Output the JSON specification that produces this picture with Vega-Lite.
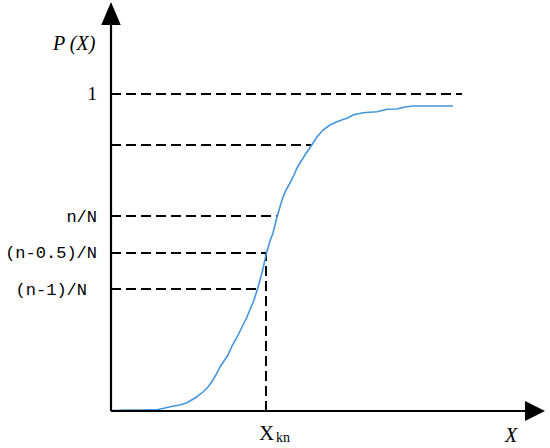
{
  "$schema": "https://vega.github.io/schema/vega-lite/v6.json",
  "width": 550,
  "height": 448,
  "padding": 0,
  "autosize": {"type": "fit", "contains": "padding"},
  "config": {"view": {"stroke": null}},
  "datasets": {
    "curve": [
      {"x": 0.02, "p": 0.0016}, {"x": 0.35, "p": 0.0032}, {"x": 0.725, "p": 0.0032},
      {"x": 1.175, "p": 0.0047}, {"x": 1.35, "p": 0.0095}, {"x": 1.475, "p": 0.0136},
      {"x": 1.725, "p": 0.0189}, {"x": 1.9, "p": 0.0262}, {"x": 2.1, "p": 0.041},
      {"x": 2.3, "p": 0.0599}, {"x": 2.425, "p": 0.0757}, {"x": 2.55, "p": 0.0978},
      {"x": 2.65, "p": 0.1199}, {"x": 2.725, "p": 0.1388}, {"x": 2.825, "p": 0.1577},
      {"x": 2.925, "p": 0.1767}, {"x": 3.025, "p": 0.205}, {"x": 3.15, "p": 0.2334},
      {"x": 3.275, "p": 0.265}, {"x": 3.4, "p": 0.2965}, {"x": 3.5, "p": 0.3281},
      {"x": 3.575, "p": 0.3502}, {"x": 3.6625, "p": 0.3849}, {"x": 3.775, "p": 0.4353},
      {"x": 3.8875, "p": 0.4984}, {"x": 3.975, "p": 0.5363}, {"x": 4.05, "p": 0.5615},
      {"x": 4.15, "p": 0.612}, {"x": 4.275, "p": 0.6656}, {"x": 4.375, "p": 0.6972},
      {"x": 4.475, "p": 0.7192}, {"x": 4.575, "p": 0.7445}, {"x": 4.65, "p": 0.7666},
      {"x": 4.725, "p": 0.7823}, {"x": 4.85, "p": 0.8076}, {"x": 5.0175, "p": 0.8391},
      {"x": 5.15, "p": 0.8644}, {"x": 5.3, "p": 0.8864}, {"x": 5.475, "p": 0.9022},
      {"x": 5.65, "p": 0.9126}, {"x": 5.8, "p": 0.9196}, {"x": 5.9, "p": 0.9233},
      {"x": 6.05, "p": 0.9338}, {"x": 6.3, "p": 0.941}, {"x": 6.65, "p": 0.9442},
      {"x": 6.775, "p": 0.9479}, {"x": 6.9, "p": 0.9517}, {"x": 7.15, "p": 0.9527},
      {"x": 7.35, "p": 0.959}, {"x": 7.55, "p": 0.9621}, {"x": 7.975, "p": 0.9621},
      {"x": 8.55, "p": 0.9621}
    ],
    "hlines": [
      {"x1": 0, "x2": 8.775, "p": 1},
      {"x1": 0, "x2": 5.025, "p": 0.8391},
      {"x1": 0, "x2": 4.15, "p": 0.6151},
      {"x1": 0, "x2": 3.875, "p": 0.4984},
      {"x1": 0, "x2": 3.675, "p": 0.3849}
    ],
    "vlines": [{"x": 3.875, "p1": 0, "p2": 0.4984}],
    "axes": [
      {"x1": 0, "x2": 0, "p1": 0, "p2": 1.2177},
      {"x1": 0, "x2": 10.375, "p1": 0, "p2": 0}
    ],
    "arrowUp": [{"x": 0, "p": 1.2539}],
    "arrowRight": [{"x": 10.6, "p": 0}],
    "ylabels": [
      {"x": -0.35, "p": 0.612, "label": "n/N"},
      {"x": -0.35, "p": 0.4984, "label": "(n-0.5)/N"},
      {"x": -0.6, "p": 0.3817, "label": "(n-1)/N"}
    ]
  },
  "layer": [
    {
      "data": {"name": "hlines"},
      "mark": {"type": "rule", "color": "#000000", "strokeWidth": 2, "strokeDash": [10, 5]},
      "encoding": {
        "x": {"field": "x1", "type": "quantitative", "axis": null, "scale": {"domain": [-2.775, 10.975], "nice": false, "zero": false}},
        "x2": {"field": "x2"},
        "y": {"field": "p", "type": "quantitative", "axis": null, "scale": {"domain": [-0.1167, 1.2965], "nice": false, "zero": false}}
      }
    },
    {
      "data": {"name": "vlines"},
      "mark": {"type": "rule", "color": "#000000", "strokeWidth": 2, "strokeDash": [10, 5]},
      "encoding": {
        "x": {"field": "x", "type": "quantitative"},
        "y": {"field": "p1", "type": "quantitative"},
        "y2": {"field": "p2"}
      }
    },
    {
      "data": {"name": "curve"},
      "mark": {"type": "line", "color": "#4595DC", "strokeWidth": 1.6},
      "encoding": {
        "x": {"field": "x", "type": "quantitative"},
        "y": {"field": "p", "type": "quantitative"}
      }
    },
    {
      "data": {"name": "axes"},
      "mark": {"type": "rule", "color": "#000000", "strokeWidth": 2.2},
      "encoding": {
        "x": {"field": "x1", "type": "quantitative"},
        "x2": {"field": "x2"},
        "y": {"field": "p1", "type": "quantitative"},
        "y2": {"field": "p2"}
      }
    },
    {
      "data": {"name": "arrowUp"},
      "mark": {"type": "point", "shape": "M0,-1L0.85,1L-0.85,1Z", "size": 529, "filled": true, "color": "#000000", "opacity": 1},
      "encoding": {
        "x": {"field": "x", "type": "quantitative"},
        "y": {"field": "p", "type": "quantitative"}
      }
    },
    {
      "data": {"name": "arrowRight"},
      "mark": {"type": "point", "shape": "M1,0L-1,1L-1,-1Z", "size": 400, "filled": true, "color": "#000000", "opacity": 1},
      "encoding": {
        "x": {"field": "x", "type": "quantitative"},
        "y": {"field": "p", "type": "quantitative"}
      }
    },
    {
      "data": {"name": "ylabels"},
      "mark": {"type": "text", "align": "right", "baseline": "middle", "font": "Liberation Mono", "fontSize": 17, "color": "#000000"},
      "encoding": {
        "x": {"field": "x", "type": "quantitative"},
        "y": {"field": "p", "type": "quantitative"},
        "text": {"field": "label"}
      }
    },
    {
      "data": {"values": [{"x": -0.35, "p": 0.981, "label": "1"}]},
      "mark": {"type": "text", "align": "right", "baseline": "alphabetic", "font": "Liberation Serif", "fontSize": 19, "color": "#000000"},
      "encoding": {
        "x": {"field": "x", "type": "quantitative"},
        "y": {"field": "p", "type": "quantitative"},
        "text": {"field": "label"}
      }
    },
    {
      "data": {"values": [{"x": -1.45, "p": 1.1388, "label": "P (X)"}, {"x": 9.85, "p": -0.0978, "label": "X"}]},
      "mark": {"type": "text", "align": "left", "baseline": "alphabetic", "font": "Liberation Serif", "fontStyle": "italic", "fontSize": 20, "color": "#000000"},
      "encoding": {
        "x": {"field": "x", "type": "quantitative"},
        "y": {"field": "p", "type": "quantitative"},
        "text": {"field": "label"}
      }
    },
    {
      "data": {"values": [{"x": 3.7, "p": -0.0915, "label": "X"}]},
      "mark": {"type": "text", "align": "left", "baseline": "alphabetic", "font": "Liberation Serif", "fontSize": 21, "color": "#000000"},
      "encoding": {
        "x": {"field": "x", "type": "quantitative"},
        "y": {"field": "p", "type": "quantitative"},
        "text": {"field": "label"}
      }
    },
    {
      "data": {"values": [{"x": 4.125, "p": -0.0978, "label": "kn"}]},
      "mark": {"type": "text", "align": "left", "baseline": "alphabetic", "font": "Liberation Serif", "fontSize": 14, "color": "#000000"},
      "encoding": {
        "x": {"field": "x", "type": "quantitative"},
        "y": {"field": "p", "type": "quantitative"},
        "text": {"field": "label"}
      }
    }
  ]
}
